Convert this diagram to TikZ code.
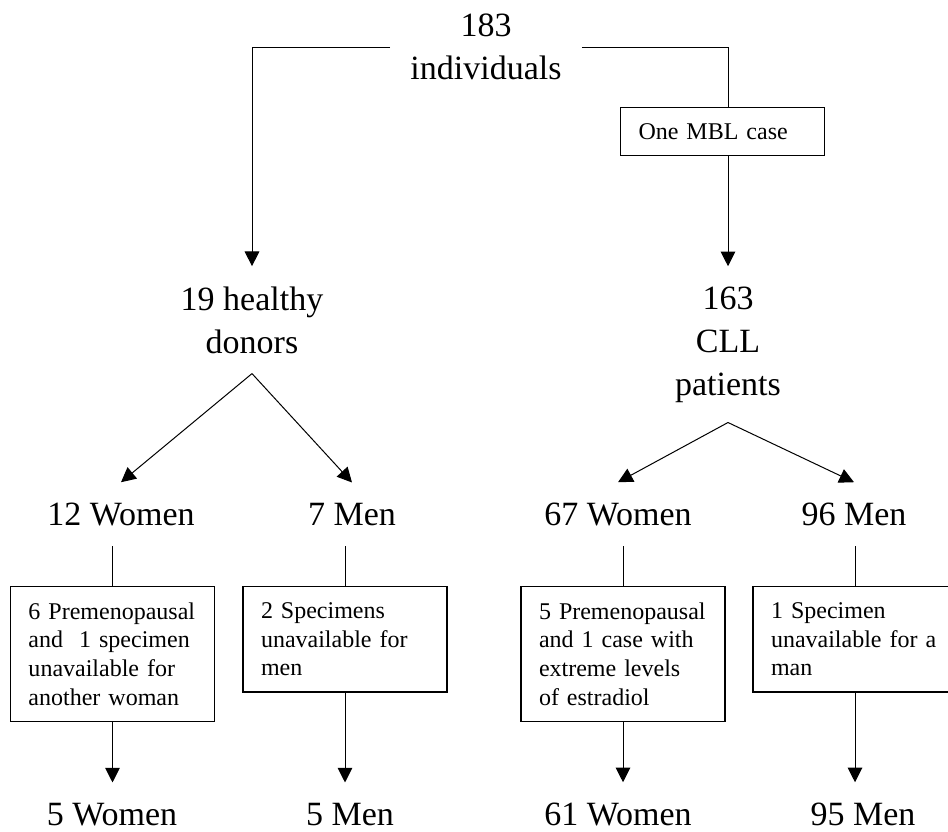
\documentclass[tikz,border=0pt]{standalone}
\usepackage{fontspec}
\setmainfont{Liberation Serif}
\usetikzlibrary{arrows.meta}
\newcommand\notefont{\fontsize{18}{21.5}\selectfont\hyphenpenalty=10000\relax}

\begin{document}
\begin{tikzpicture}[x=0.75pt, y=-0.75pt,
  grp/.style = {align=center, inner xsep=15pt, inner ysep=15pt,
    font=\fontsize{25.5}{32.25}\selectfont},
  notebox/.style = {draw, line width=0.9pt, anchor=north, align=left,
    text width=126pt, inner xsep=13.5pt, inner ysep=12pt, font=\notefont},
  link/.style = {line width=0.75pt, -{Triangle[length=11pt,width=11pt]}}]
  \useasboundingbox (0,0) rectangle (948,831);
  % groups (base = last line)
  \node[grp, anchor=base] (all) at (486,80) {183\\individuals};
  \node[grp, anchor=base] (hd) at (252,353) {19 healthy\\donors};
  \node[grp, anchor=base] (cll) at (728,395) {163\\CLL\\patients};
  \node[notebox] (mbl) at (722.5,107) {One MBL case};
  % sexes
  \node[grp, anchor=base] (w12) at (121,525) {12 Women};
  \node[grp, anchor=base] (m7) at (352,525) {7 Men};
  \node[grp, anchor=base] (w67) at (618,525) {67 Women};
  \node[grp, anchor=base] (m96) at (854,525) {96 Men};
  % exclusions
  \node[notebox] (exA) at (112.5,586) {6 Premenopausal\\and~ 1 specimen\\unavailable for\\another woman};
  \node[notebox] (exB) at (345,586) {2 Specimens\\unavailable for\\men};
  \node[notebox] (exC) at (623,586) {5 Premenopausal\\and 1 case with\\extreme levels\\of estradiol};
  \node[notebox] (exD) at (855,586) {1 Specimen\\unavailable for a\\man};
  % final counts
  \node[grp, anchor=base] (w5) at (112,825) {5 Women};
  \node[grp, anchor=base] (m5) at (350,825) {5 Men};
  \node[grp, anchor=base] (w61) at (618,825) {61 Women};
  \node[grp, anchor=base] (m95) at (863,825) {95 Men};

  \draw[link] (all.west) -| (hd.north);
  \draw[line width=0.75pt] (all.east) -| (mbl.north -| cll.north);
  \draw[link] (mbl.south -| cll.north) -- (cll.north);
  \foreach \a/\b in {hd/w12, hd/m7, cll/w67, cll/m96}
    \draw[link] (\a.south) -- (\b.north);
  \foreach \t/\b/\u in {w12/exA/w5, m7/exB/m5, w67/exC/w61, m96/exD/m95} {
    \draw[line width=0.75pt] (\b.north) -- (\b.north |- \t.south);
    \draw[link] (\b.south) -- (\b.south |- \u.north);
  }
\end{tikzpicture}
\end{document}
